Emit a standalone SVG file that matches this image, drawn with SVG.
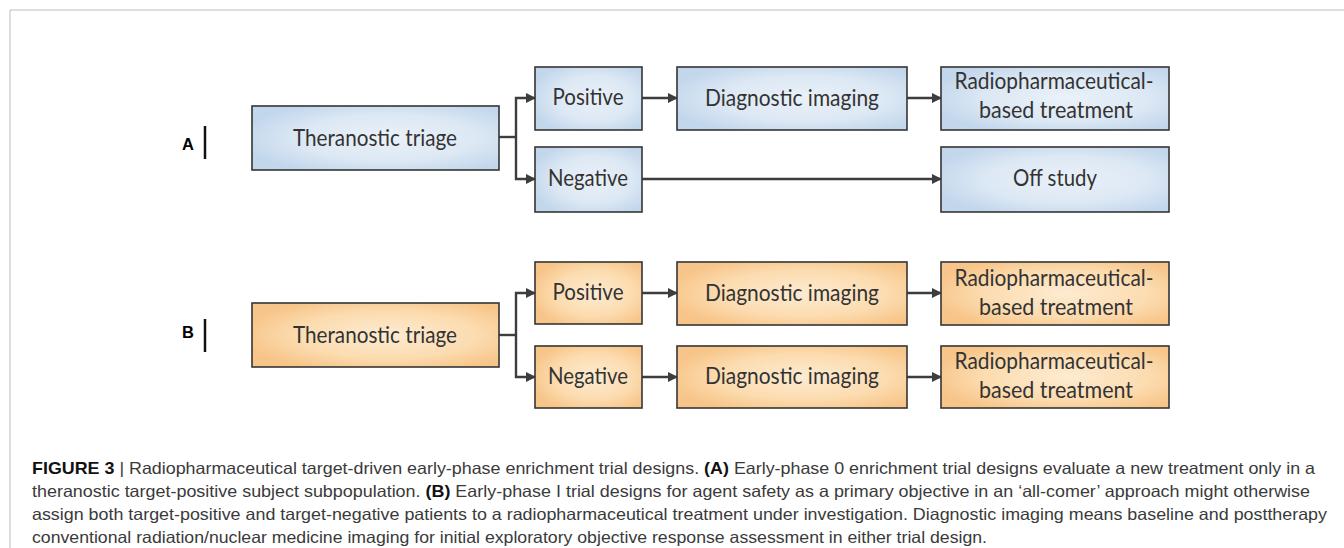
<svg xmlns="http://www.w3.org/2000/svg" width="1344" height="548" viewBox="0 0 1344 548">
<defs>
<radialGradient id="gBlue" cx="0.55" cy="0.5" r="0.6">
<stop offset="0" stop-color="#eaf1f9"/>
<stop offset="0.6" stop-color="#dce8f4"/>
<stop offset="1" stop-color="#c3d7ec"/>
</radialGradient>
<radialGradient id="gOrange" cx="0.55" cy="0.5" r="0.6">
<stop offset="0" stop-color="#fdebd1"/>
<stop offset="0.6" stop-color="#fcdcb0"/>
<stop offset="1" stop-color="#f7c589"/>
</radialGradient>
<marker id="arr" viewBox="0 0 10 10" refX="9" refY="5" markerWidth="4.2" markerHeight="4.2" orient="auto" markerUnits="strokeWidth">
<path d="M0,0 L10,5 L0,10 z" fill="#3d3d3d"/>
</marker>
<style>
.blue{fill:url(#gBlue);stroke:#353535;stroke-width:1.6}
.orange{fill:url(#gOrange);stroke:#353535;stroke-width:1.6}
.bt{font-family:Lato,"Open Sans",sans-serif;font-size:22.5px;fill:#333;text-anchor:middle}
.lbl{font-family:"Liberation Sans",Arial,sans-serif;font-size:16.5px;font-weight:bold;fill:#000;text-anchor:middle}
.bar{stroke:#111;stroke-width:2.5}
.cn{fill:none;stroke:#3d3d3d;stroke-width:2.4;marker-end:url(#arr)}
.cn0{fill:none;stroke:#3d3d3d;stroke-width:2.4}
.cap{font-family:"Liberation Sans",Arial,sans-serif;font-size:16.5px;fill:#3a3a3a}
.b{font-weight:bold;fill:#111}
.frame{fill:none;stroke:#bdbdbd;stroke-width:1}
</style>
</defs>
<path class="frame" d="M10,548 V10 H1344"/>

<g id="labelA"><text class="lbl" x="188" y="150">A</text><line class="bar" x1="205" y1="126" x2="205" y2="159"/></g>
<g id="labelB"><text class="lbl" x="188" y="338">B</text><line class="bar" x1="205" y1="319" x2="205" y2="352"/></g>

<g id="connectors">
<path class="cn0" d="M499,137 H516"/>
<path class="cn" d="M516,137 V98 H535"/>
<path class="cn" d="M516,137 V179 H535"/>
<path class="cn" d="M642,98 H677"/>
<path class="cn" d="M907,98 H941"/>
<path class="cn" d="M642,179 H941"/>
<path class="cn0" d="M499,335 H516"/>
<path class="cn" d="M516,335 V293 H535"/>
<path class="cn" d="M516,335 V377 H535"/>
<path class="cn" d="M642,293 H677"/>
<path class="cn" d="M907,293 H941"/>
<path class="cn" d="M642,377 H677"/>
<path class="cn" d="M907,377 H941"/>
</g>

<g id="a_triage"><rect class="blue" x="252" y="106" width="247" height="64"/><text class="bt" x="375" y="146" textLength="164" lengthAdjust="spacingAndGlyphs">Theranostic triage</text></g>
<g id="a_positive"><rect class="blue" x="535" y="67" width="107" height="63"/><text class="bt" x="588" y="105" textLength="71" lengthAdjust="spacingAndGlyphs">Positive</text></g>
<g id="a_negative"><rect class="blue" x="535" y="147" width="107" height="65"/><text class="bt" x="588" y="186" textLength="80" lengthAdjust="spacingAndGlyphs">Negative</text></g>
<g id="a_diag"><rect class="blue" x="677" y="67" width="230" height="63"/><text class="bt" x="792" y="106" textLength="174" lengthAdjust="spacingAndGlyphs">Diagnostic imaging</text></g>
<g id="a_radio"><rect class="blue" x="941" y="67" width="228" height="63"/><text class="bt" x="1054" y="89" textLength="199" lengthAdjust="spacingAndGlyphs">Radiopharmaceutical-</text><text class="bt" x="1056" y="118" textLength="154" lengthAdjust="spacingAndGlyphs">based treatment</text></g>
<g id="a_off"><rect class="blue" x="941" y="147" width="228" height="65"/><text class="bt" x="1055" y="186" textLength="84" lengthAdjust="spacingAndGlyphs">Off study</text></g>

<g id="b_triage"><rect class="orange" x="252" y="303" width="247" height="64"/><text class="bt" x="375" y="343" textLength="164" lengthAdjust="spacingAndGlyphs">Theranostic triage</text></g>
<g id="b_positive"><rect class="orange" x="535" y="262" width="107" height="62"/><text class="bt" x="588" y="300" textLength="71" lengthAdjust="spacingAndGlyphs">Positive</text></g>
<g id="b_negative"><rect class="orange" x="535" y="346" width="107" height="62"/><text class="bt" x="588" y="384" textLength="80" lengthAdjust="spacingAndGlyphs">Negative</text></g>
<g id="b_diag1"><rect class="orange" x="677" y="262" width="230" height="63"/><text class="bt" x="792" y="301" textLength="174" lengthAdjust="spacingAndGlyphs">Diagnostic imaging</text></g>
<g id="b_radio1"><rect class="orange" x="941" y="262" width="228" height="63"/><text class="bt" x="1054" y="286" textLength="199" lengthAdjust="spacingAndGlyphs">Radiopharmaceutical-</text><text class="bt" x="1056" y="315" textLength="154" lengthAdjust="spacingAndGlyphs">based treatment</text></g>
<g id="b_diag2"><rect class="orange" x="677" y="346" width="230" height="62"/><text class="bt" x="792" y="384" textLength="174" lengthAdjust="spacingAndGlyphs">Diagnostic imaging</text></g>
<g id="b_radio2"><rect class="orange" x="941" y="346" width="228" height="62"/><text class="bt" x="1054" y="369" textLength="199" lengthAdjust="spacingAndGlyphs">Radiopharmaceutical-</text><text class="bt" x="1056" y="398" textLength="154" lengthAdjust="spacingAndGlyphs">based treatment</text></g>

<g id="caption">
<text class="cap" x="32" y="474" textLength="1283" lengthAdjust="spacingAndGlyphs"><tspan class="b">FIGURE 3</tspan> | Radiopharmaceutical target-driven early-phase enrichment trial designs. <tspan class="b">(A)</tspan> Early-phase 0 enrichment trial designs evaluate a new treatment only in a</text>
<text class="cap" x="32" y="497" textLength="1278" lengthAdjust="spacingAndGlyphs">theranostic target-positive subject subpopulation. <tspan class="b">(B)</tspan> Early-phase I trial designs for agent safety as a primary objective in an ‘all-comer’ approach might otherwise</text>
<text class="cap" x="32" y="520" textLength="1295" lengthAdjust="spacingAndGlyphs">assign both target-positive and target-negative patients to a radiopharmaceutical treatment under investigation. Diagnostic imaging means baseline and posttherapy</text>
<text class="cap" x="32" y="543" textLength="955" lengthAdjust="spacingAndGlyphs">conventional radiation/nuclear medicine imaging for initial exploratory objective response assessment in either trial design.</text>
</g>
</svg>
